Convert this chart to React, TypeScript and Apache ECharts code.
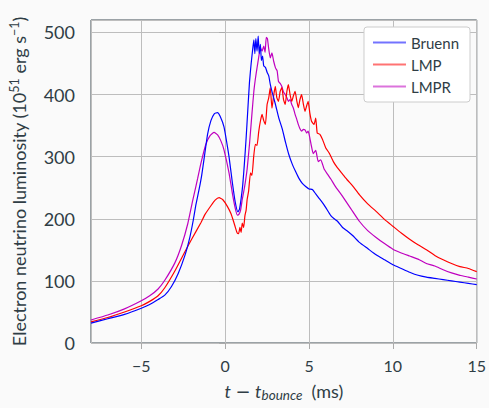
import React, { useEffect, useRef } from 'react';
import * as echarts from 'echarts';

const seriesNames = ['Bruenn', 'LMP', 'LMPR'];
const seriesColors = ['#0000ff', '#ff0000', '#bf00bf'];

const bruenn: number[][] = [
  [-8,32],[-7,39],[-6,46],[-5,56],[-4.5,62],[-4,70],[-3.6,77],[-3.2,91],[-2.8,112],[-2.4,141],[-2.1,171],[-1.9,198],[-1.75,222],[-1.55,248],[-1.4,270],[-1.25,298],[-1.05,336],[-0.85,358],[-0.65,369],[-0.46,371],[-0.3,365],[-0.07,348],[0.1,322],[0.23,300],[0.43,258],[0.6,227],[0.76,211],[0.85,215],[0.95,232],[1.05,255],[1.15,290],[1.25,330],[1.35,375],[1.45,420],[1.55,450],[1.63,470],[1.71,488],[1.77,466],[1.83,490],[1.9,470],[1.97,494],[2.03,466],[2.1,481],[2.16,455],[2.23,462],[2.3,446],[2.4,444],[2.5,436],[2.6,430],[2.7,415],[2.8,404],[3.0,384],[3.2,362],[3.4,345],[3.6,323],[3.8,303],[4.0,288],[4.2,276],[4.4,265],[4.6,257],[4.8,252],[5.0,248],[5.2,247],[5.4,240],[5.6,233],[5.8,226],[6.0,218],[6.3,205],[6.5,200],[6.7,196],[7.0,186],[7.3,180],[7.6,173],[8.0,162],[8.5,152],[9.0,142],[9.5,134],[10,126],[10.5,120],[11,114],[11.5,109],[12,106],[12.5,104],[13,102],[13.5,100],[14,98],[14.5,96],[15,94]
];

const lmp: number[][] = [
  [-8,34],[-7,41],[-6,50],[-5,60],[-4.5,67],[-4,76],[-3.6,89],[-3.0,116],[-2.4,147],[-2.0,167],[-1.44,194],[-1.2,207],[-0.85,221],[-0.6,230],[-0.36,234],[-0.15,231],[0.13,220],[0.35,208],[0.52,194],[0.62,185],[0.72,177],[0.8,176],[0.88,186],[0.95,178],[1.02,193],[1.1,186],[1.18,205],[1.25,214],[1.31,231],[1.4,245],[1.51,274],[1.6,270],[1.7,300],[1.8,320],[1.9,318],[2.0,340],[2.1,357],[2.2,368],[2.3,358],[2.4,352],[2.5,384],[2.6,395],[2.69,411],[2.79,378],[2.9,400],[2.99,413],[3.08,395],[3.18,389],[3.28,405],[3.38,411],[3.48,392],[3.58,384],[3.68,405],[3.77,416],[3.87,400],[3.97,389],[4.07,398],[4.17,405],[4.27,390],[4.36,379],[4.46,392],[4.56,400],[4.66,385],[4.76,373],[4.86,382],[4.95,389],[5.05,370],[5.15,357],[5.3,352],[5.4,362],[5.49,338],[5.65,336],[5.8,328],[6.0,314],[6.2,306],[6.45,292],[6.7,282],[7.0,272],[7.3,262],[7.6,253],[8.0,239],[8.5,224],[9.0,212],[9.5,199],[10,188],[10.5,177],[11,167],[11.5,158],[12,150],[12.5,141],[13,134],[13.5,128],[14,123],[14.5,120],[15,115]
];

const lmpr: number[][] = [
  [-8,37],[-7,45],[-6,55],[-5,68],[-4.5,76],[-4,87],[-3.6,101],[-3.0,129],[-2.6,157],[-2.23,192],[-1.93,230],[-1.64,265],[-1.44,290],[-1.15,320],[-0.9,334],[-0.66,339],[-0.45,335],[-0.25,325],[-0.07,311],[0.23,274],[0.43,241],[0.6,217],[0.72,206],[0.82,207],[0.92,214],[1.02,231],[1.15,250],[1.31,280],[1.45,320],[1.6,370],[1.71,405],[1.8,425],[1.9,443],[2.0,460],[2.1,475],[2.2,470],[2.3,478],[2.38,468],[2.45,492],[2.52,490],[2.59,475],[2.69,459],[2.79,467],[2.89,454],[3.0,443],[3.1,438],[3.18,421],[3.28,418],[3.38,413],[3.48,404],[3.58,400],[3.68,395],[3.77,389],[3.87,392],[3.97,384],[4.07,378],[4.17,368],[4.27,360],[4.36,352],[4.46,345],[4.56,341],[4.66,344],[4.76,343],[4.86,338],[4.95,341],[5.05,330],[5.15,316],[5.25,305],[5.4,310],[5.55,292],[5.7,295],[5.9,280],[6.1,272],[6.3,264],[6.6,251],[7.0,236],[7.5,216],[8.0,196],[8.5,181],[9.0,170],[9.5,160],[10,151],[10.5,145],[11,140],[11.5,135],[12,128],[12.5,124],[13,118],[13.5,113],[14,109],[14.5,106],[15,103]
];

const seriesData = [bruenn, lmp, lmpr];

const xLabel = '{it|t}{n| }{m|−}{n| }{it|t}{sub|bounce}{n|  (ms)}';
const yLabel = '{n|Electron neutrino luminosity (10}{sup|51}{n| erg s}{sup|−1}{n|)}';

const FONT = 'Lato';
const TEXT = '#2f3d45';

export default function App() {
  const ref = useRef<HTMLDivElement>(null);
  useEffect(() => {
    const chart = echarts.init(ref.current!, null, { renderer: 'svg' });
    chart.setOption({
      animation: false,
      backgroundColor: '#fafafa',
      textStyle: { fontFamily: FONT, color: TEXT },
      grid: {
        left: 89, right: 11, top: 20, bottom: 65,
        show: true, borderColor: '#3d4a52', borderWidth: 1, backgroundColor: 'transparent',
      },
      legend: {
        data: seriesNames,
        orient: 'vertical',
        right: 19, top: 27,
        padding: [8, 11, 8, 8],
        itemWidth: 33, itemHeight: 14, itemGap: 7,
        backgroundColor: '#ffffff',
        borderColor: '#cccccc', borderWidth: 1, borderRadius: 3,
        textStyle: { fontFamily: FONT, fontSize: 15, color: TEXT },
        itemStyle: { opacity: 0 },
        lineStyle: { width: 2, opacity: 0.55 },
      },
      xAxis: {
        type: 'value', min: -8, max: 15, minInterval: 5, maxInterval: 5,
        axisLine: { show: false },
        axisTick: { show: true, length: 6, lineStyle: { color: '#aaaaaa' } },
        splitLine: { show: true, lineStyle: { color: '#bdbdbd', width: 1 } },
        axisLabel: {
          fontFamily: FONT, fontSize: 16, color: TEXT, margin: 14,
          showMinLabel: false,
          formatter: (v: number) => (v < 0 ? '−' + Math.abs(v) : String(v)),
        },
        name: xLabel,
        nameLocation: 'middle',
        nameGap: 37,
        nameTextStyle: {
          rich: {
            n: { fontFamily: FONT, fontSize: 18, color: TEXT, lineHeight: 22 },
            m: { fontFamily: 'DejaVu Sans', fontSize: 18, color: TEXT, lineHeight: 22 },
            it: { fontFamily: FONT, fontSize: 18, color: TEXT, fontStyle: 'italic', lineHeight: 22 },
            sub: { fontFamily: FONT, fontSize: 13.5, color: TEXT, fontStyle: 'italic', verticalAlign: 'bottom' },
          },
        },
      },
      yAxis: {
        type: 'value', min: 0, max: 520, interval: 100,
        axisLine: { show: false },
        axisTick: { show: true, length: 6, lineStyle: { color: '#aaaaaa' } },
        splitLine: { show: true, lineStyle: { color: '#bdbdbd', width: 1 } },
        axisLabel: { fontFamily: FONT, fontSize: 18, color: TEXT, margin: 16, showMaxLabel: false },
        name: yLabel,
        nameLocation: 'middle',
        nameGap: 61,
        nameTextStyle: {
          rich: {
            n: { fontFamily: FONT, fontSize: 18, color: TEXT, lineHeight: 22 },
            sup: { fontFamily: FONT, fontSize: 12.5, color: TEXT, verticalAlign: 'top' },
          },
        },
      },
      series: seriesNames.map((name, i) => ({
        name,
        type: 'line',
        data: seriesData[i],
        showSymbol: false,
        symbol: 'none',
        smooth: 0.15,
        lineStyle: { color: seriesColors[i], width: 1.2 },
        itemStyle: { color: seriesColors[i] },
        z: 3 - i,
      })),
    });
    return () => chart.dispose();
  }, []);
  return (
    <div
      ref={ref}
      style={{ position: 'fixed', left: 0, top: 0, width: 489, height: 408, background: '#fafafa' }}
    />
  );
}
